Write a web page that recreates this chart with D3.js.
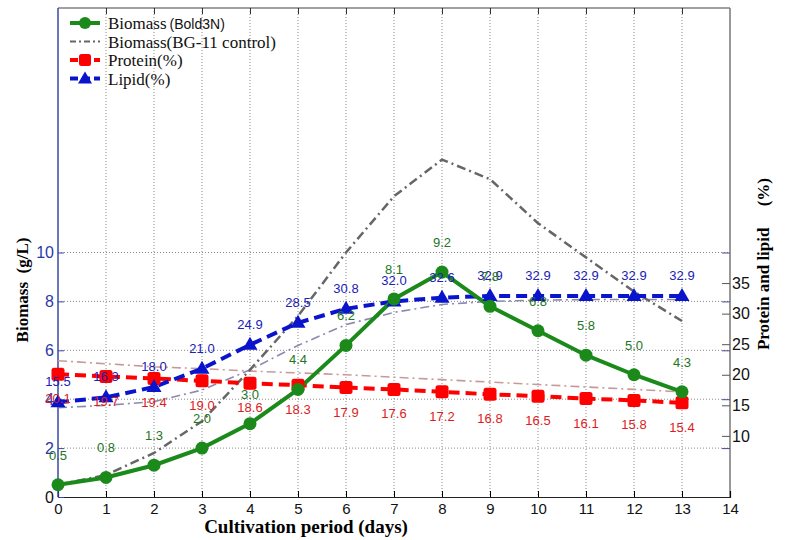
<!DOCTYPE html>
<html>
<head>
<meta charset="utf-8">
<script src="https://cdn.jsdelivr.net/npm/d3@7"></script>
<style>
body { margin: 0; background: #fff; }
svg { display: block; }
</style>
</head>
<body>
<script>
// data
var days = [0, 1, 2, 3, 4, 5, 6, 7, 8, 9, 10, 11, 12, 13];
var biomassBold = [0.5, 0.8, 1.3, 2.0, 3.0, 4.4, 6.2, 8.1, 9.2, 7.8, 6.8, 5.8, 5.0, 4.3];
var biomassBG11 = [0.5, 0.9, 1.8, 3.1, 5.2, 7.4, 10.0, 12.3, 13.8, 13.0, 11.2, 9.8, 8.4, 7.2];
var protein = [20.1, 19.7, 19.4, 19.0, 18.6, 18.3, 17.9, 17.6, 17.2, 16.8, 16.5, 16.1, 15.8, 15.4];
var lipid = [15.5, 16.3, 18.0, 21.0, 24.9, 28.5, 30.8, 32.0, 32.6, 32.9, 32.9, 32.9, 32.9, 32.9];
var proteinCtrl = [22.3, 21.8, 21.3, 21.0, 20.6, 20.3, 20.0, 19.6, 19.2, 18.8, 18.4, 18.0, 17.6, 17.2];
var lipidCtrl = [14.6, 15.0, 15.6, 17.5, 20.8, 24.8, 28.2, 30.2, 31.5, 32.0, 32.2, 32.3, 32.3, 32.3];
var xTicks = d3.range(0, 15);
var leftTicks = [0, 2, 4, 6, 8, 10];
var rightTicks = [10, 15, 20, 25, 30, 35];

var width = 795, height = 540;
var pL = 58, pR = 730, pT = 8, pB = 497;

var svg = d3.select("body").append("svg")
  .attr("width", width)
  .attr("height", height);

var x = d3.scaleLinear().domain([0, 14]).range([pL, pR]);
var yL = d3.scaleLinear().domain([0, 20]).range([pB, pT]);
var yR = d3.scaleLinear().domain([0, 80]).range([pB, pT]);

// grid
var grid = svg.append("g")
  .attr("stroke", "#888")
  .attr("stroke-width", 1)
  .attr("stroke-dasharray", "1,2");
grid.selectAll(".vg")
  .data(xTicks.filter(d => d > 0 && d < 14))
  .enter().append("line")
  .attr("x1", d => x(d)).attr("x2", d => x(d))
  .attr("y1", pT).attr("y2", pB);
grid.selectAll(".hg")
  .data(leftTicks.filter(d => d > 0))
  .enter().append("line")
  .attr("x1", pL).attr("x2", pR)
  .attr("y1", d => yL(d)).attr("y2", d => yL(d));

// frame
svg.append("line").attr("x1", pL).attr("x2", pR).attr("y1", pT).attr("y2", pT)
  .attr("stroke", "#444").attr("stroke-width", 1.2);
svg.append("line").attr("x1", pR).attr("x2", pR).attr("y1", pT).attr("y2", pB)
  .attr("stroke", "#777").attr("stroke-width", 1.5);

// axes
var xAxis = d3.axisBottom(x).tickValues(xTicks).tickSize(-6).tickPadding(6).tickFormat(d3.format("d"));
var gx = svg.append("g").attr("transform", "translate(0," + pB + ")").call(xAxis);
gx.select(".domain").attr("stroke", "#222").attr("stroke-width", 1.2);
gx.selectAll("text").attr("font-family", "Liberation Sans, Arial").attr("font-size", 15).attr("fill", "#111");

var xTop = d3.axisTop(x).tickValues(xTicks.filter(d => d > 0 && d < 14)).tickSize(-6).tickFormat("");
var gxt = svg.append("g").attr("transform", "translate(0," + pT + ")").call(xTop);
gxt.select(".domain").remove();
gxt.selectAll("line").attr("stroke", "#333");

var yAxisL = d3.axisLeft(yL).tickValues(leftTicks).tickSize(-6).tickPadding(4).tickFormat(d3.format("d"));
var gyl = svg.append("g").attr("transform", "translate(" + pL + ",0)").call(yAxisL);
gyl.select(".domain").attr("d", "M0," + pT + "V" + pB).attr("stroke", "#3a4aa0").attr("stroke-width", 1.5);
gyl.selectAll("line").attr("stroke", "#3a4aa0");
gyl.selectAll("text").attr("font-family", "Liberation Sans, Arial").attr("font-size", 16)
  .attr("fill", d => d === 0 ? "#111" : "#2a3aa8");

// mirrored left ticks on right side
var gyl2 = svg.append("g").attr("transform", "translate(" + pR + ",0)")
  .call(d3.axisRight(yL).tickValues(leftTicks.filter(d => d > 0)).tickSize(-8).tickFormat(""));
gyl2.select(".domain").remove();
gyl2.selectAll("line").attr("stroke", "#4a4a8a");

var yAxisR = d3.axisRight(yR).tickValues(rightTicks).tickSize(-8).tickPadding(2).tickFormat(d3.format("d"));
var gyr = svg.append("g").attr("transform", "translate(" + pR + ",0)").call(yAxisR);
gyr.select(".domain").remove();
gyr.selectAll("line").attr("stroke", "#555");
gyr.selectAll("text").attr("font-family", "Liberation Sans, Arial").attr("font-size", 16).attr("fill", "#111");

// axis titles
svg.append("text")
  .attr("transform", "translate(28,290) rotate(-90)")
  .attr("text-anchor", "middle")
  .attr("font-family", "Liberation Serif, Times New Roman")
  .attr("font-weight", "bold").attr("font-size", 17)
  .attr("xml:space", "preserve")
  .text("Biomass  (g/L)");
svg.append("text")
  .attr("transform", "translate(769,264) rotate(-90)")
  .attr("text-anchor", "middle")
  .attr("font-family", "Liberation Serif, Times New Roman")
  .attr("font-weight", "bold").attr("font-size", 17)
  .attr("xml:space", "preserve")
  .text("Protein and lipid     (%)");
svg.append("text")
  .attr("x", 306).attr("y", 533)
  .attr("text-anchor", "middle")
  .attr("font-family", "Liberation Serif, Times New Roman")
  .attr("font-weight", "bold").attr("font-size", 19)
  .text("Cultivation period (days)");

// lines
function lineOf(vals, scale) {
  return d3.line().x((d, i) => x(days[i])).y(d => scale(d))(vals);
}
var dashDot = "9,4,2,4";

svg.append("path").attr("d", lineOf(proteinCtrl, yR))
  .attr("fill", "none").attr("stroke", "#c79a9a").attr("stroke-width", 1.6).attr("stroke-dasharray", dashDot);
svg.append("path").attr("d", lineOf(lipidCtrl, yR))
  .attr("fill", "none").attr("stroke", "#8a8ab0").attr("stroke-width", 1.6).attr("stroke-dasharray", dashDot);
svg.append("path").attr("d", lineOf(biomassBG11, yL))
  .attr("fill", "none").attr("stroke", "#666").attr("stroke-width", 2.5).attr("stroke-dasharray", dashDot);

svg.append("path").attr("d", lineOf(protein, yR))
  .attr("fill", "none").attr("stroke", "#ff0000").attr("stroke-width", 4).attr("stroke-dasharray", "11,6");
svg.append("path").attr("d", lineOf(lipid, yR))
  .attr("fill", "none").attr("stroke", "#0a14cc").attr("stroke-width", 4).attr("stroke-dasharray", "11,6");
svg.append("path").attr("d", lineOf(biomassBold, yL))
  .attr("fill", "none").attr("stroke", "#1b8a1b").attr("stroke-width", 4);

// markers
svg.selectAll(".sq").data(protein).enter().append("rect")
  .attr("x", (d, i) => x(days[i]) - 6.5).attr("y", d => yR(d) - 6.5)
  .attr("width", 13).attr("height", 13).attr("rx", 2.5)
  .attr("fill", "#ff0000");
svg.selectAll(".tri").data(lipid).enter().append("path")
  .attr("d", (d, i) => {
    var cx = x(days[i]), cy = yR(d);
    return "M" + cx + "," + (cy - 8) + "L" + (cx + 7.5) + "," + (cy + 5) + "L" + (cx - 7.5) + "," + (cy + 5) + "Z";
  })
  .attr("fill", "#0a14cc");
svg.selectAll(".dot").data(biomassBold).enter().append("circle")
  .attr("cx", (d, i) => x(days[i])).attr("cy", d => yL(d)).attr("r", 6.5)
  .attr("fill", "#1b8a1b");

// data labels
var lf = "Liberation Sans, Arial";
svg.selectAll(".lb").data(lipid).enter().append("text")
  .attr("x", (d, i) => x(days[i])).attr("y", d => yR(d) - 16)
  .attr("text-anchor", "middle").attr("font-family", lf).attr("font-size", 13)
  .attr("fill", "#2020b8").text(d => d.toFixed(1));
svg.selectAll(".pb").data(protein).enter().append("text")
  .attr("x", (d, i) => x(days[i])).attr("y", d => yR(d) + 29)
  .attr("text-anchor", "middle").attr("font-family", lf).attr("font-size", 13)
  .attr("fill", "#dd1c1c").text(d => d.toFixed(1));
svg.selectAll(".gb").data(biomassBold).enter().append("text")
  .attr("x", (d, i) => x(days[i])).attr("y", d => yL(d) - 25)
  .attr("text-anchor", "middle").attr("font-family", lf).attr("font-size", 13)
  .attr("fill", "#237523").text(d => d.toFixed(1));

// legend
var legendItems = [
  { color: "#1b8a1b", width: 4, dash: null, mark: "circle", label: "Biomass", sub: "(Bold3N)" },
  { color: "#666", width: 2, dash: "6,3,2,3", mark: null, label: "Biomass(BG-11 control)", sub: null },
  { color: "#ff0000", width: 4, dash: "8,4", mark: "square", label: "Protein(%)", sub: null },
  { color: "#0a14cc", width: 4, dash: "8,4", mark: "tri", label: "Lipid(%)", sub: null }
];
var leg = svg.append("g");
legendItems.forEach(function (it, i) {
  var yy = 23 + i * 18.5;
  var g = leg.append("g");
  g.append("line").attr("x1", 70).attr("x2", 100).attr("y1", yy).attr("y2", yy)
    .attr("stroke", it.color).attr("stroke-width", it.width)
    .attr("stroke-dasharray", it.dash);
  if (it.mark === "circle") g.append("circle").attr("cx", 85).attr("cy", yy).attr("r", 6).attr("fill", it.color);
  if (it.mark === "square") g.append("rect").attr("x", 79).attr("y", yy - 6).attr("width", 12).attr("height", 12).attr("rx", 2.5).attr("fill", it.color);
  if (it.mark === "tri") g.append("path").attr("d", "M85," + (yy - 7) + "L92," + (yy + 5) + "L78," + (yy + 5) + "Z").attr("fill", it.color);
  var t = g.append("text").attr("x", 108).attr("y", yy + 6)
    .attr("font-family", "Liberation Serif, Times New Roman").attr("font-size", 17).attr("fill", "#111");
  t.append("tspan").text(it.label);
  if (it.sub) t.append("tspan").attr("font-family", lf).attr("font-size", 14).attr("dx", 3).text(it.sub);
});
</script>
</body>
</html>
